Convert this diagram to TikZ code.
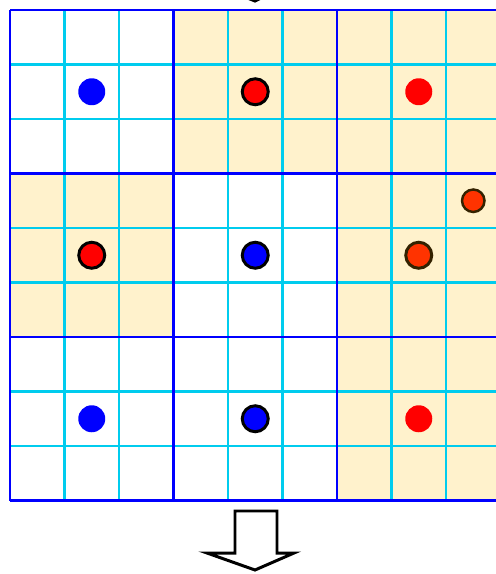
\documentclass[tikz,border=0pt]{standalone}
\usetikzlibrary{positioning}
\definecolor{cellline}{RGB}{0,204,238}
\definecolor{blockline}{RGB}{0,0,255}
\definecolor{cellfill}{RGB}{255,242,204}
\definecolor{dotorange}{RGB}{255,51,0}
\definecolor{dotrim}{RGB}{51,34,0}
\begin{document}
\begin{tikzpicture}[
    x=0.02cm, y=-0.02cm,
    dot/.style={circle, inner sep=0pt, minimum size=0.54cm},
    rimdot/.style={circle, inner sep=0pt, minimum size=0.52cm, draw=black, line width=1.7pt},
    smalldot/.style={circle, inner sep=0pt, minimum size=0.45cm, draw=dotrim, line width=1.4pt, fill=dotorange},
    thin grid/.style={cellline, line width=1.2pt},
    block grid/.style={blockline, line width=1.2pt},
    hollow/.style={draw=black, fill=white, line width=1.7pt}
]
\useasboundingbox (0,0) rectangle (496,574);
\clip (0,0) rectangle (496,574);
\def\cs{54.5}
% shaded blocks
\foreach \r/\c in {0/1, 0/2, 1/0, 1/2, 2/2}
  \fill[cellfill] ({10+3*\c*\cs},{10+3*\r*\cs}) rectangle ++({3*\cs},{3*\cs});
% cells
\foreach \i in {1,2,4,5,7,8} {
  \draw[thin grid] ({10+\i*\cs},10) -- ({10+\i*\cs},{10+9*\cs});
  \draw[thin grid] (10,{10+\i*\cs}) -- ({10+9*\cs},{10+\i*\cs});
}
% blocks
\foreach \i in {0,3,6,9} {
  \draw[block grid] ({10+\i*\cs},10) -- ({10+\i*\cs},{10+9*\cs});
  \draw[block grid] (10,{10+\i*\cs}) -- ({10+9*\cs},{10+\i*\cs});
}
% dots
\node[dot, fill=blue] (d00) at ({10+1.5*\cs},{10+1.5*\cs}) {};
\node[rimdot, fill=red] (d01) at ({10+4.5*\cs},{10+1.5*\cs}) {};
\node[dot, fill=red] (d02) at ({10+7.5*\cs},{10+1.5*\cs}) {};
\node[rimdot, fill=red] (d10) at ({10+1.5*\cs},{10+4.5*\cs}) {};
\node[rimdot, fill=blue] (d11) at ({10+4.5*\cs},{10+4.5*\cs}) {};
\node[smalldot, minimum size=0.52cm, line width=1.7pt] (d12) at ({10+7.5*\cs},{10+4.5*\cs}) {};
\node[smalldot] (e12) at ({10+8.5*\cs},{10+3.5*\cs}) {};
\node[dot, fill=blue] (d20) at ({10+1.5*\cs},{10+7.5*\cs}) {};
\node[rimdot, fill=blue] (d21) at ({10+4.5*\cs},{10+7.5*\cs}) {};
\node[dot, fill=red] (d22) at ({10+7.5*\cs},{10+7.5*\cs}) {};
% arrows
\draw[hollow] (235,-60) -- (277,-60) -- (277,-18) -- (294,-18) -- (255,1) -- (207,-18) -- (235,-18) -- cycle;
\draw[hollow] (235,511) -- (277,511) -- (277,553) -- (294,553) -- (255,570) -- (207,553) -- (235,553) -- cycle;
\end{tikzpicture}
\end{document}
